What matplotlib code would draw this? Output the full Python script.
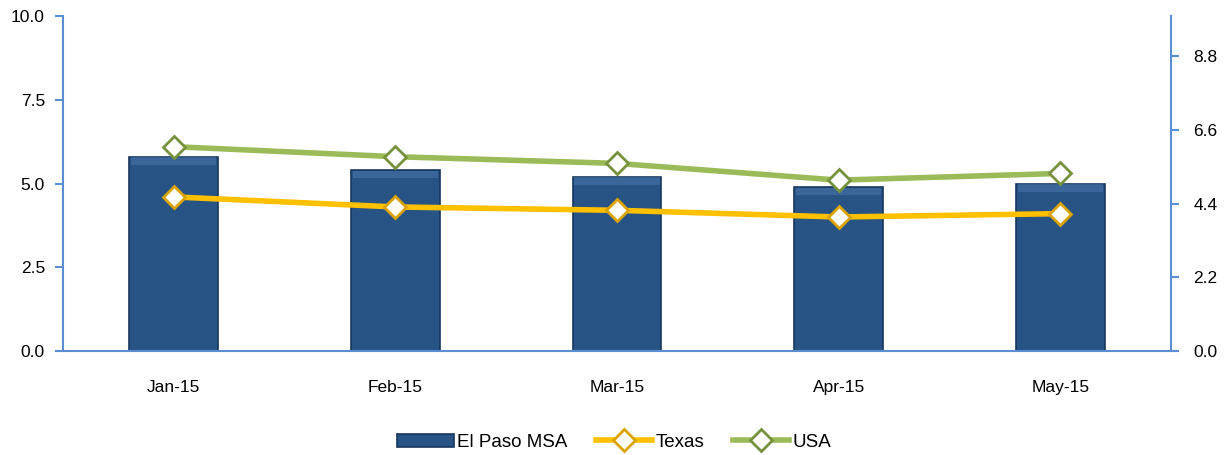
import matplotlib.pyplot as plt
import numpy as np

plt.rcParams['font.family'] = ['Liberation Sans', 'DejaVu Sans']

months = ['Jan-15', 'Feb-15', 'Mar-15', 'Apr-15', 'May-15']
el_paso = [5.8, 5.4, 5.2, 4.9, 5.0]
texas = [4.6, 4.3, 4.2, 4.0, 4.1]
usa = [6.1, 5.8, 5.6, 5.1, 5.3]

axis_blue = '#5B8ED0'
x = np.arange(len(months))

fig = plt.figure(figsize=(12.29, 4.55), dpi=100)
ax = fig.add_axes([63 / 1229, 1 - 351 / 455, (1171 - 63) / 1229, (351 - 16) / 455])
ax2 = ax.twinx()

ax.bar(x, el_paso, width=0.4, color='#285385', edgecolor='#17375E',
       linewidth=1.2, label='El Paso MSA', zorder=2)
# lighter top strip of each bar, gives the bevel look
ax.bar(x, [0.22] * len(x), width=0.385, bottom=np.array(el_paso) - 0.24,
       color='#4A76AB', alpha=0.55, linewidth=0, zorder=3)

ax2.plot(x, texas, color='#FFC000', lw=4, marker='D', ms=11,
         mfc='white', mec='#D9A300', mew=2, label='Texas', zorder=4)
ax2.plot(x, usa, color='#9BBB59', lw=4, marker='D', ms=11,
         mfc='white', mec='#76923C', mew=2, label='USA', zorder=4)

ax.set_xlim(-0.5, len(x) - 0.5)
ax.set_ylim(0, 10)
ax.set_yticks([0, 2.5, 5.0, 7.5, 10.0])
ax.set_yticklabels(['0.0', '2.5', '5.0', '7.5', '10.0'])
ax2.set_ylim(0, 10)
ax2.set_yticks([0, 2.2, 4.4, 6.6, 8.8])
ax2.set_yticklabels(['0.0', '2.2', '4.4', '6.6', '8.8'])

ax.set_xticks(x)
ax.set_xticklabels(months)

for a in (ax, ax2):
    for s in a.spines.values():
        s.set_visible(False)
ax.spines['left'].set_visible(True)
ax.spines['bottom'].set_visible(True)
ax2.spines['right'].set_visible(True)
for s in (ax.spines['left'], ax.spines['bottom'], ax2.spines['right']):
    s.set_color(axis_blue)
    s.set_linewidth(1.5)

ax.tick_params(axis='y', colors=axis_blue, labelcolor='black', labelsize=12.5,
               length=6, width=1.5, direction='out', pad=7)
ax2.tick_params(axis='y', colors=axis_blue, labelcolor='black', labelsize=12.5,
                length=6, width=1.5, direction='out', pad=10)
ax.tick_params(axis='x', length=0, labelsize=12.5, pad=21)

h1, l1 = ax.get_legend_handles_labels()
h2, l2 = ax2.get_legend_handles_labels()
fig.legend(h1 + h2, l1 + l2, loc='lower center', ncol=3, frameon=False,
           fontsize=13.5, bbox_to_anchor=(0.5, -0.028), handlelength=3.0,
           columnspacing=1.5, handletextpad=0.2)

fig.savefig('out.png', dpi=100)
